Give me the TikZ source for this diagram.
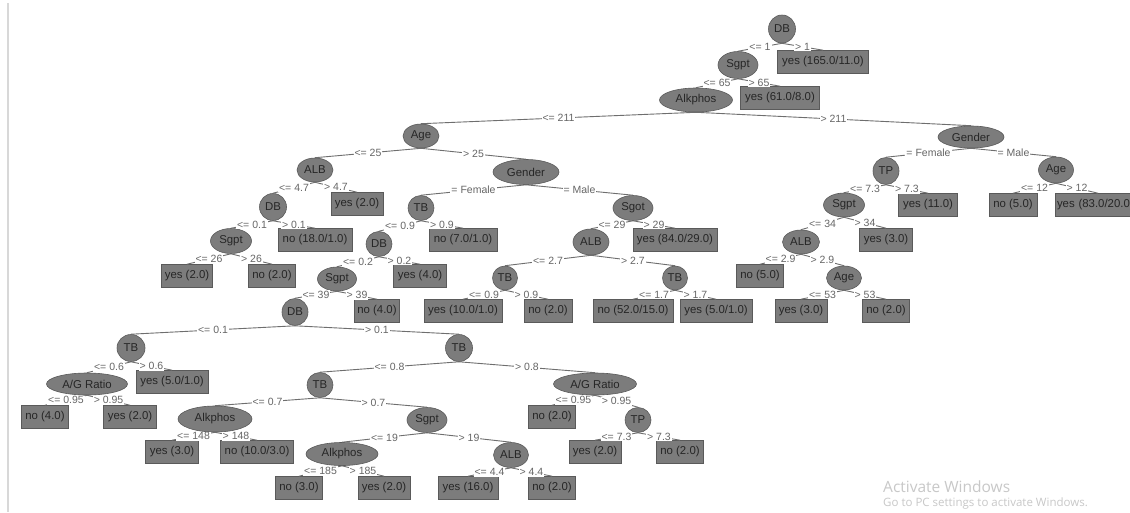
\documentclass[tikz,border=0pt]{standalone}
\usepackage{fontspec}
\setmainfont{Liberation Sans}
\newfontfamily\wmfont{Open Sans}
\usetikzlibrary{shapes.geometric}
\definecolor{ng}{HTML}{7C7C7C}
\definecolor{nd}{HTML}{5A5A5A}
\definecolor{nt}{HTML}{262626}
\definecolor{eg}{HTML}{6E6E6E}
\definecolor{lg}{HTML}{666666}
\definecolor{wm}{HTML}{C8C8C8}
\definecolor{bl}{HTML}{D8D8D8}
\tikzset{
  inode/.style={ellipse, fill=ng, draw=nd, line width=0.6pt, inner sep=0pt, text=nt, font=\fontsize{11.4}{12}\selectfont},
  leaf/.style={rectangle, fill=ng, draw=nd, line width=0.6pt, inner sep=0pt, minimum height=23, text=nt, font=\fontsize{11.4}{12}\selectfont},
  edge/.style={draw=eg, line width=0.9pt},
  lab/.style={fill=white, inner sep=1pt, text=lg, font=\fontsize{10.5}{11}\selectfont},
  wmark/.style={anchor=west, text=wm, inner sep=0pt}
}
\newcommand{\E}[3]{\draw[edge] (#1.south) -- node[lab]{#3} (#2.north);}
\begin{document}
\begin{tikzpicture}[x=1pt,y=-1pt]
\useasboundingbox (0,0) rectangle (1130,512);
\clip (0,0) rectangle (1130,512);
\fill[white] (0,0) rectangle (1130,512);
\draw[bl, line width=2pt] (8,3) -- (8,512);
% nodes
\node[inode, minimum width=27, minimum height=28] (r) at (782,29) {DB};
\node[inode, minimum width=40, minimum height=27] (a) at (738,65) {Sgpt};
\node[leaf, minimum width=91] (aY) at (823,62) {yes (165.0/11.0)};
\node[inode, minimum width=73, minimum height=24] (b) at (696,100) {Alkphos};
\node[leaf, minimum width=79] (bY) at (780,98) {yes (61.0/8.0)};
\node[inode, minimum width=36, minimum height=24] (c) at (421,136) {Age};
\node[inode, minimum width=66, minimum height=22] (d) at (971,137) {Gender};
\node[inode, minimum width=36, minimum height=24] (c1) at (315,170) {ALB};
\node[inode, minimum width=66, minimum height=25] (c2) at (526,172) {Gender};
\node[inode, minimum width=27, minimum height=27] (c1a) at (273,207) {DB};
\node[leaf, minimum width=52] (c1Y) at (357,204) {yes (2.0)};
\node[inode, minimum width=41, minimum height=25] (c1a1) at (231,241) {Sgpt};
\node[leaf, minimum width=74] (c1aN) at (315,240) {no (18.0/1.0)};
\node[leaf, minimum width=51] (l1) at (187,276) {yes (2.0)};
\node[leaf, minimum width=47] (l2) at (272,276) {no (2.0)};
\node[inode, minimum width=26, minimum height=25] (c2a) at (421,208) {TB};
\node[inode, minimum width=40, minimum height=25] (c2b) at (633,208) {Sgot};
\node[leaf, minimum width=68] (c2aN) at (463,240) {no (7.0/1.0)};
\node[inode, minimum width=26, minimum height=25] (c2a1) at (379,244) {DB};
\node[leaf, minimum width=53] (c2aY) at (420,276) {yes (4.0)};
\node[inode, minimum width=39, minimum height=24] (c2a2) at (337,279) {Sgpt};
\node[leaf, minimum width=45] (c2aN2) at (377,311) {no (4.0)};
\node[inode, minimum width=26, minimum height=27] (e) at (295,312) {DB};
\node[inode, minimum width=28, minimum height=27] (f) at (131,348) {TB};
\node[inode, minimum width=27, minimum height=27] (g) at (459,348) {TB};
\node[inode, minimum width=81, minimum height=22] (f1) at (87,384) {A/G Ratio};
\node[leaf, minimum width=72] (fY) at (172,382) {yes (5.0/1.0)};
\node[leaf, minimum width=47] (fN) at (45,417) {no (4.0)};
\node[leaf, minimum width=53] (fY2) at (130,417) {yes (2.0)};
\node[inode, minimum width=26, minimum height=25] (g1) at (320,385) {TB};
\node[inode, minimum width=83, minimum height=22] (g2) at (595,384) {A/G Ratio};
\node[inode, minimum width=74, minimum height=26] (h1) at (215,419) {Alkphos};
\node[inode, minimum width=40, minimum height=25] (h2) at (427,420) {Sgpt};
\node[leaf, minimum width=53] (h1Y) at (172,452) {yes (3.0)};
\node[leaf, minimum width=73] (h1N) at (257,452) {no (10.0/3.0)};
\node[inode, minimum width=72, minimum height=23] (i1) at (342,454) {Alkphos};
\node[inode, minimum width=35, minimum height=25] (i2) at (511,455) {ALB};
\node[leaf, minimum width=47] (i1N) at (299,488) {no (3.0)};
\node[leaf, minimum width=52] (i1Y) at (384,488) {yes (2.0)};
\node[leaf, minimum width=60] (i2Y) at (468,488) {yes (16.0)};
\node[leaf, minimum width=47] (i2N) at (552,488) {no (2.0)};
\node[leaf, minimum width=47] (g2N) at (552,417) {no (2.0)};
\node[inode, minimum width=26, minimum height=25] (g2a) at (638,420) {TP};
\node[leaf, minimum width=52] (g2aY) at (595,452) {yes (2.0)};
\node[leaf, minimum width=47] (g2aN) at (680,452) {no (2.0)};
\node[inode, minimum width=36, minimum height=26] (c2b1) at (591,242) {ALB};
\node[leaf, minimum width=84] (c2bY) at (675,240) {yes (84.0/29.0)};
\node[inode, minimum width=25, minimum height=24] (j1) at (505,278) {TB};
\node[inode, minimum width=25, minimum height=24] (j2) at (675,278) {TB};
\node[leaf, minimum width=78] (j1Y) at (463,311) {yes (10.0/1.0)};
\node[leaf, minimum width=48] (j1N) at (548,311) {no (2.0)};
\node[leaf, minimum width=80] (j2N) at (633,311) {no (52.0/15.0)};
\node[leaf, minimum width=72] (j2Y) at (716,311) {yes (5.0/1.0)};
\node[inode, minimum width=26, minimum height=27] (d1) at (886,171) {TP};
\node[inode, minimum width=35, minimum height=26] (d2) at (1056,170) {Age};
\node[inode, minimum width=41, minimum height=24] (d1a) at (844,205) {Sgpt};
\node[leaf, minimum width=59] (d1Y) at (928,205) {yes (11.0)};
\node[leaf, minimum width=48] (d2N) at (1013,205) {no (5.0)};
\node[leaf, minimum width=86, text width=84, align=left] (d2Y) at (1098,205) {\hspace{1pt}yes (83.0/20.0)};
\node[inode, minimum width=37, minimum height=24] (k) at (801,242) {ALB};
\node[leaf, minimum width=53] (kY) at (886,240) {yes (3.0)};
\node[leaf, minimum width=47] (kN) at (760,276) {no (5.0)};
\node[inode, minimum width=35, minimum height=24] (k2) at (844,278) {Age};
\node[leaf, minimum width=52] (k2Y) at (801,311) {yes (3.0)};
\node[leaf, minimum width=47] (k2N) at (886,311) {no (2.0)};
% edges
\E{r}{a}{<= 1}
\E{r}{aY}{> 1}
\E{a}{b}{<= 65}
\E{a}{bY}{> 65}
\E{b}{c}{<= 211}
\E{b}{d}{> 211}
\E{c}{c1}{<= 25}
\E{c}{c2}{> 25}
\E{c1}{c1a}{<= 4.7}
\E{c1}{c1Y}{> 4.7}
\E{c1a}{c1a1}{<= 0.1}
\E{c1a}{c1aN}{> 0.1}
\E{c1a1}{l1}{<= 26}
\E{c1a1}{l2}{> 26}
\E{c2}{c2a}{= Female}
\E{c2}{c2b}{= Male}
\E{c2a}{c2a1}{<= 0.9}
\E{c2a}{c2aN}{> 0.9}
\E{c2a1}{c2a2}{<= 0.2}
\E{c2a1}{c2aY}{> 0.2}
\E{c2a2}{e}{<= 39}
\E{c2a2}{c2aN2}{> 39}
\E{e}{f}{<= 0.1}
\E{e}{g}{> 0.1}
\E{f}{f1}{<= 0.6}
\E{f}{fY}{> 0.6}
\E{f1}{fN}{<= 0.95}
\E{f1}{fY2}{> 0.95}
\E{g}{g1}{<= 0.8}
\E{g}{g2}{> 0.8}
\E{g1}{h1}{<= 0.7}
\E{g1}{h2}{> 0.7}
\E{h1}{h1Y}{<= 148}
\E{h1}{h1N}{> 148}
\E{h2}{i1}{<= 19}
\E{h2}{i2}{> 19}
\E{i1}{i1N}{<= 185}
\E{i1}{i1Y}{> 185}
\E{i2}{i2Y}{<= 4.4}
\E{i2}{i2N}{> 4.4}
\E{g2}{g2N}{<= 0.95}
\E{g2}{g2a}{> 0.95}
\E{g2a}{g2aY}{<= 7.3}
\E{g2a}{g2aN}{> 7.3}
\E{c2b}{c2b1}{<= 29}
\E{c2b}{c2bY}{> 29}
\E{c2b1}{j1}{<= 2.7}
\E{c2b1}{j2}{> 2.7}
\E{j1}{j1Y}{<= 0.9}
\E{j1}{j1N}{> 0.9}
\E{j2}{j2N}{<= 1.7}
\E{j2}{j2Y}{> 1.7}
\E{d}{d1}{= Female}
\E{d}{d2}{= Male}
\E{d1}{d1a}{<= 7.3}
\E{d1}{d1Y}{> 7.3}
\E{d2}{d2N}{<= 12}
\E{d2}{d2Y}{> 12}
\E{d1a}{k}{<= 34}
\E{d1a}{kY}{> 34}
\E{k}{kN}{<= 2.9}
\E{k}{k2}{> 2.9}
\E{k2}{k2Y}{<= 53}
\E{k2}{k2N}{> 53}
% watermark
\node[wmark, font=\wmfont\fontsize{15.5}{16}\selectfont] (wm1) at (883,487) {Activate Windows};
\node[wmark, font=\wmfont\fontsize{11.5}{12}\selectfont] (wm2) at (883,504) {Go to PC settings to activate Windows.};
\end{tikzpicture}
\end{document}
